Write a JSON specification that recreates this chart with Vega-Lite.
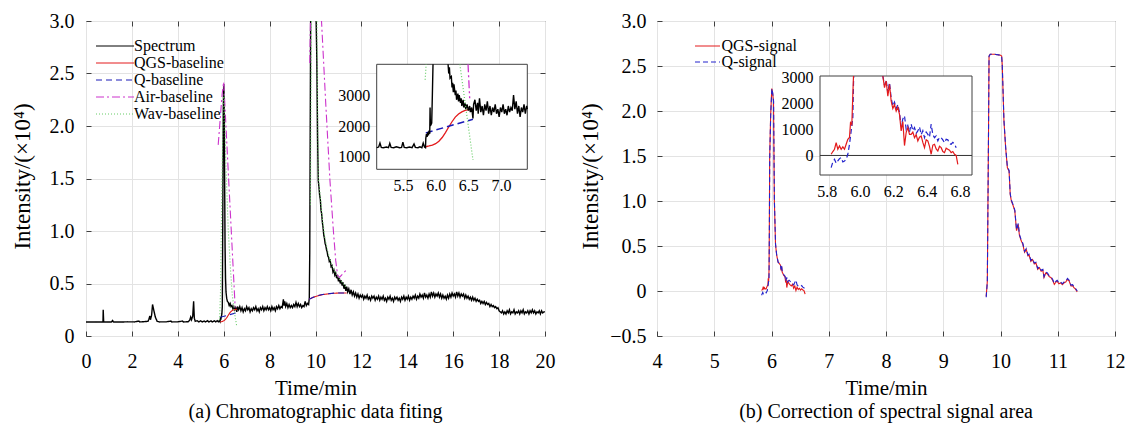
{
"$schema":"https://vega.github.io/schema/vega-lite/v6.json",
"background":"white",
"padding":{"left":10,"top":10,"right":5,"bottom":0},
"spacing":23,
"config":{
 "view":{"stroke":"#404040","strokeWidth":1},
 "font":"Liberation Serif",
 "axis":{"labelFont":"Liberation Serif","titleFont":"Liberation Serif","labelColor":"#000","titleColor":"#000","titleFontWeight":"normal","gridColor":"#e3e3e3","gridWidth":1,"tickColor":"#404040","domain":false,"labelFlush":false},
 "legend":{"labelFont":"Liberation Serif","labelFontSize":16,"labelColor":"#000"},
 "title":{"font":"Liberation Serif","fontWeight":"normal","fontSize":21,"color":"#000"}
},
"datasets":{
 "specA":[{"t":0,"v":0.133},{"t":0.4,"v":0.134},{"t":0.7,"v":0.133},{"t":0.74,"v":0.135},{"t":0.75,"v":0.25},{"t":0.77,"v":0.134},{"t":0.8,"v":0.133},{"t":1.1,"v":0.133},{"t":1.16,"v":0.148},{"t":1.19,"v":0.134},{"t":1.5,"v":0.133},{"t":1.8,"v":0.135},{"t":2.1,"v":0.134},{"t":2.3,"v":0.142},{"t":2.35,"v":0.134},{"t":2.5,"v":0.136},{"t":2.7,"v":0.14},{"t":2.74,"v":0.16},{"t":2.78,"v":0.19},{"t":2.81,"v":0.155},{"t":2.86,"v":0.2},{"t":2.9,"v":0.3},{"t":2.94,"v":0.26},{"t":2.98,"v":0.22},{"t":3.02,"v":0.18},{"t":3.06,"v":0.16},{"t":3.1,"v":0.14},{"t":3.2,"v":0.134},{"t":3.5,"v":0.135},{"t":3.7,"v":0.142},{"t":3.74,"v":0.134},{"t":4.0,"v":0.135},{"t":4.2,"v":0.142},{"t":4.25,"v":0.134},{"t":4.45,"v":0.136},{"t":4.52,"v":0.15},{"t":4.56,"v":0.18},{"t":4.6,"v":0.155},{"t":4.65,"v":0.19},{"t":4.69,"v":0.33},{"t":4.72,"v":0.17},{"t":4.76,"v":0.14},{"t":4.85,"v":0.145},{"t":4.92,"v":0.134},{"t":5.0,"v":0.145},{"t":5.06,"v":0.134},{"t":5.15,"v":0.143},{"t":5.2,"v":0.134},{"t":5.3,"v":0.146},{"t":5.35,"v":0.134},{"t":5.45,"v":0.144},{"t":5.5,"v":0.134},{"t":5.6,"v":0.145},{"t":5.65,"v":0.134},{"t":5.72,"v":0.146},{"t":5.77,"v":0.135},{"t":5.81,"v":0.145},{"t":5.84,"v":0.135},{"t":5.86,"v":0.17},{"t":5.88,"v":0.165},{"t":5.9,"v":0.185},{"t":5.92,"v":0.21},{"t":5.94,"v":0.28},{"t":5.96,"v":1.1},{"t":5.98,"v":2.1},{"t":6.0,"v":2.4},{"t":6.02,"v":2.25},{"t":6.04,"v":1.5},{"t":6.06,"v":0.85},{"t":6.08,"v":0.55},{"t":6.1,"v":0.42},{"t":6.13,"v":0.36},{"t":6.16,"v":0.33},{"t":6.2,"v":0.32},{"t":6.24,"v":0.29},{"t":6.28,"v":0.31},{"t":6.32,"v":0.28},{"t":6.36,"v":0.29},{"t":6.4,"v":0.26},{"t":6.44,"v":0.28},{"t":6.48,"v":0.25},{"t":6.52,"v":0.27},{"t":6.57,"v":0.23},{"t":6.6,"v":0.28},
 {"t":6.65,"v":0.25},{"t":6.7,"v":0.28},{"t":6.75,"v":0.24},{"t":6.8,"v":0.27},{"t":6.85,"v":0.23},{"t":6.9,"v":0.26},{"t":6.95,"v":0.24},{"t":7.0,"v":0.28},{"t":7.05,"v":0.25},{"t":7.1,"v":0.27},{"t":7.15,"v":0.23},{"t":7.2,"v":0.26},{"t":7.25,"v":0.24},{"t":7.3,"v":0.27},{"t":7.35,"v":0.25},{"t":7.4,"v":0.28},{"t":7.45,"v":0.24},{"t":7.5,"v":0.26},{"t":7.55,"v":0.23},{"t":7.6,"v":0.27},{"t":7.65,"v":0.25},{"t":7.7,"v":0.28},{"t":7.75,"v":0.24},{"t":7.8,"v":0.27},{"t":7.85,"v":0.25},{"t":7.9,"v":0.28},{"t":7.95,"v":0.25},{"t":8.0,"v":0.27},{"t":8.05,"v":0.24},{"t":8.1,"v":0.28},{"t":8.15,"v":0.25},{"t":8.2,"v":0.27},{"t":8.25,"v":0.24},{"t":8.3,"v":0.28},{"t":8.35,"v":0.26},{"t":8.4,"v":0.29},{"t":8.45,"v":0.26},{"t":8.5,"v":0.28},{"t":8.55,"v":0.27},{"t":8.6,"v":0.35},{"t":8.63,"v":0.29},{"t":8.66,"v":0.33},{"t":8.7,"v":0.28},{"t":8.75,"v":0.31},{"t":8.8,"v":0.27},{"t":8.85,"v":0.3},{"t":8.9,"v":0.27},{"t":8.95,"v":0.29},{"t":9.0,"v":0.27},{"t":9.05,"v":0.3},{"t":9.1,"v":0.28},{"t":9.15,"v":0.32},{"t":9.2,"v":0.28},{"t":9.25,"v":0.31},{"t":9.3,"v":0.28},{"t":9.35,"v":0.3},{"t":9.4,"v":0.27},{"t":9.45,"v":0.29},{"t":9.5,"v":0.28},{"t":9.55,"v":0.33},{"t":9.6,"v":0.29},{"t":9.65,"v":0.31},{"t":9.7,"v":0.3},
 {"t":9.73,"v":0.36},{"t":9.75,"v":0.8},{"t":9.77,"v":2.0},{"t":9.79,"v":3.1},{"t":10.02,"v":3.1},{"t":10.06,"v":2.6},{"t":10.09,"v":1.9},{"t":10.12,"v":1.48},{"t":10.15,"v":1.42},{"t":10.18,"v":1.34},{"t":10.21,"v":1.3},{"t":10.24,"v":1.2},{"t":10.27,"v":1.16},{"t":10.3,"v":1.08},{"t":10.33,"v":1.03},{"t":10.36,"v":0.96},{"t":10.39,"v":0.93},{"t":10.42,"v":0.88},{"t":10.45,"v":0.86},{"t":10.48,"v":0.82},{"t":10.51,"v":0.8},{"t":10.54,"v":0.76},{"t":10.57,"v":0.75},{"t":10.6,"v":0.71},{"t":10.64,"v":0.72},{"t":10.68,"v":0.66},{"t":10.72,"v":0.67},{"t":10.76,"v":0.61},{"t":10.8,"v":0.63},{"t":10.84,"v":0.58},{"t":10.88,"v":0.6},{"t":10.92,"v":0.55},{"t":10.96,"v":0.58},{"t":11.0,"v":0.52},{"t":11.04,"v":0.55},{"t":11.08,"v":0.5},{"t":11.12,"v":0.53},{"t":11.16,"v":0.48},{"t":11.2,"v":0.51},{"t":11.24,"v":0.45},{"t":11.28,"v":0.49},{"t":11.32,"v":0.43},{"t":11.36,"v":0.47},{"t":11.4,"v":0.42},{"t":11.45,"v":0.45},{"t":11.5,"v":0.4},{"t":11.55,"v":0.44},{"t":11.6,"v":0.39},{"t":11.65,"v":0.42},{"t":11.7,"v":0.38},{"t":11.75,"v":0.41},{"t":11.8,"v":0.37},{"t":11.85,"v":0.4},{"t":11.9,"v":0.36},{"t":11.95,"v":0.39},
 {"t":12.0,"v":0.37},{"t":12.05,"v":0.39},{"t":12.1,"v":0.35},{"t":12.15,"v":0.38},{"t":12.2,"v":0.36},{"t":12.25,"v":0.39},{"t":12.3,"v":0.35},{"t":12.35,"v":0.37},{"t":12.4,"v":0.34},{"t":12.45,"v":0.38},{"t":12.5,"v":0.36},{"t":12.55,"v":0.38},{"t":12.6,"v":0.34},{"t":12.65,"v":0.37},{"t":12.7,"v":0.35},{"t":12.75,"v":0.38},{"t":12.8,"v":0.34},{"t":12.85,"v":0.37},{"t":12.9,"v":0.35},{"t":12.95,"v":0.38},{"t":13.0,"v":0.34},{"t":13.05,"v":0.36},{"t":13.1,"v":0.33},{"t":13.15,"v":0.37},{"t":13.2,"v":0.35},{"t":13.25,"v":0.38},{"t":13.3,"v":0.34},{"t":13.35,"v":0.36},{"t":13.4,"v":0.33},{"t":13.45,"v":0.37},{"t":13.5,"v":0.35},{"t":13.55,"v":0.37},{"t":13.6,"v":0.34},{"t":13.65,"v":0.36},{"t":13.7,"v":0.33},{"t":13.75,"v":0.37},{"t":13.8,"v":0.35},{"t":13.85,"v":0.38},{"t":13.9,"v":0.34},{"t":13.95,"v":0.37},{"t":14.0,"v":0.35},{"t":14.05,"v":0.38},{"t":14.1,"v":0.34},{"t":14.15,"v":0.37},{"t":14.2,"v":0.35},{"t":14.25,"v":0.38},{"t":14.3,"v":0.36},{"t":14.35,"v":0.39},{"t":14.4,"v":0.35},{"t":14.45,"v":0.38},{"t":14.5,"v":0.36},{"t":14.55,"v":0.4},{"t":14.6,"v":0.37},{"t":14.65,"v":0.39},{"t":14.7,"v":0.36},{"t":14.75,"v":0.41},{"t":14.8,"v":0.37},{"t":14.85,"v":0.39},{"t":14.9,"v":0.36},{"t":14.95,"v":0.4},{"t":15.0,"v":0.37},{"t":15.05,"v":0.42},{"t":15.1,"v":0.38},{"t":15.15,"v":0.41},{"t":15.2,"v":0.37},{"t":15.25,"v":0.4},{"t":15.3,"v":0.38},{"t":15.35,"v":0.41},{"t":15.4,"v":0.37},{"t":15.45,"v":0.4},{"t":15.5,"v":0.36},{"t":15.55,"v":0.39},{"t":15.6,"v":0.36},{"t":15.65,"v":0.38},{"t":15.7,"v":0.35},{"t":15.75,"v":0.39},{"t":15.8,"v":0.36},{"t":15.85,"v":0.4},{"t":15.9,"v":0.37},{"t":15.95,"v":0.41},{"t":16.0,"v":0.38},{"t":16.05,"v":0.4},{"t":16.1,"v":0.37},{"t":16.15,"v":0.42},{"t":16.2,"v":0.38},{"t":16.25,"v":0.41},{"t":16.3,"v":0.37},{"t":16.35,"v":0.4},{"t":16.4,"v":0.38},{"t":16.45,"v":0.4},{"t":16.5,"v":0.36},{"t":16.55,"v":0.39},{"t":16.6,"v":0.36},{"t":16.65,"v":0.38},{"t":16.7,"v":0.35},{"t":16.75,"v":0.37},{"t":16.8,"v":0.34},{"t":16.85,"v":0.37},{"t":16.9,"v":0.34},{"t":16.95,"v":0.36},{"t":17.0,"v":0.33},{"t":17.05,"v":0.35},{"t":17.1,"v":0.33},{"t":17.15,"v":0.34},{"t":17.2,"v":0.31},{"t":17.25,"v":0.33},{"t":17.3,"v":0.31},{"t":17.35,"v":0.33},{"t":17.4,"v":0.3},{"t":17.45,"v":0.32},{"t":17.5,"v":0.3},{"t":17.55,"v":0.31},{"t":17.6,"v":0.28},{"t":17.65,"v":0.3},{"t":17.7,"v":0.28},{"t":17.75,"v":0.29},{"t":17.8,"v":0.27},{"t":17.85,"v":0.28},{"t":17.9,"v":0.26},{"t":17.95,"v":0.27},{"t":18.0,"v":0.24},{"t":18.05,"v":0.23},{"t":18.1,"v":0.22},{"t":18.15,"v":0.24},{"t":18.2,"v":0.21},{"t":18.25,"v":0.23},{"t":18.3,"v":0.21},{"t":18.35,"v":0.24},{"t":18.4,"v":0.22},{"t":18.45,"v":0.25},{"t":18.5,"v":0.21},{"t":18.55,"v":0.23},{"t":18.6,"v":0.22},{"t":18.65,"v":0.25},{"t":18.7,"v":0.21},{"t":18.75,"v":0.23},{"t":18.8,"v":0.22},{"t":18.85,"v":0.24},{"t":18.9,"v":0.21},{"t":18.95,"v":0.24},{"t":19.0,"v":0.22},{"t":19.05,"v":0.25},{"t":19.1,"v":0.21},{"t":19.15,"v":0.23},{"t":19.2,"v":0.22},{"t":19.25,"v":0.24},{"t":19.3,"v":0.21},{"t":19.35,"v":0.24},{"t":19.4,"v":0.22},{"t":19.45,"v":0.25},{"t":19.5,"v":0.22},{"t":19.55,"v":0.24},{"t":19.6,"v":0.21},{"t":19.65,"v":0.23},{"t":19.7,"v":0.22},{"t":19.75,"v":0.24},{"t":19.8,"v":0.21},{"t":19.85,"v":0.24},{"t":19.9,"v":0.22},{"t":19.95,"v":0.23},{"t":20.0,"v":0.23}],
 "qgsA":[{"g":1,"t":5.85,"v":0.133},{"g":1,"t":5.95,"v":0.139},{"g":1,"t":6.0,"v":0.145},{"g":1,"t":6.05,"v":0.153},{"g":1,"t":6.1,"v":0.165},{"g":1,"t":6.15,"v":0.18},{"g":1,"t":6.2,"v":0.198},{"g":1,"t":6.25,"v":0.215},{"g":1,"t":6.3,"v":0.229},{"g":1,"t":6.35,"v":0.239},{"g":1,"t":6.4,"v":0.246},{"g":1,"t":6.45,"v":0.25},{"g":1,"t":6.5,"v":0.253},{"g":1,"t":6.57,"v":0.254},{"g":2,"t":9.72,"v":0.35},{"g":2,"t":9.9,"v":0.368},{"g":2,"t":10.1,"v":0.383},{"g":2,"t":10.3,"v":0.394},{"g":2,"t":10.5,"v":0.4},{"g":2,"t":10.8,"v":0.407},{"g":2,"t":11.1,"v":0.41},{"g":2,"t":11.36,"v":0.41}],
 "qA":[{"g":1,"t":5.85,"v":0.178},{"g":1,"t":6.57,"v":0.222},{"g":2,"t":9.72,"v":0.35},{"g":2,"t":9.9,"v":0.37},{"g":2,"t":10.1,"v":0.385},{"g":2,"t":10.3,"v":0.395},{"g":2,"t":10.5,"v":0.401},{"g":2,"t":10.8,"v":0.408},{"g":2,"t":11.1,"v":0.41},{"g":2,"t":11.36,"v":0.41}],
 "airA":[{"g":1,"t":5.76,"v":1.82},{"g":1,"t":5.93,"v":2.3},{"g":1,"t":6.0,"v":2.42},{"g":1,"t":6.5,"v":0.27},{"g":2,"t":9.75,"v":2.6},{"g":2,"t":9.8,"v":3.3},{"g":2,"t":10.2,"v":3.3},{"g":2,"t":10.25,"v":3.05},{"g":2,"t":10.45,"v":2.2},{"g":2,"t":10.63,"v":1.48},{"g":2,"t":10.78,"v":1.0},{"g":2,"t":10.88,"v":0.72},{"g":2,"t":10.97,"v":0.57},{"g":2,"t":11.05,"v":0.56},{"g":2,"t":11.35,"v":0.63}],
 "wavA":[{"g":1,"t":5.82,"v":0.15},{"g":1,"t":5.86,"v":0.42},{"g":1,"t":5.92,"v":1.4},{"g":1,"t":5.98,"v":2.25},{"g":1,"t":6.02,"v":2.3},{"g":1,"t":6.1,"v":1.6},{"g":1,"t":6.2,"v":1.0},{"g":1,"t":6.3,"v":0.62},{"g":1,"t":6.37,"v":0.4},{"g":1,"t":6.47,"v":0.22},{"g":1,"t":6.57,"v":0.09},{"g":2,"t":9.78,"v":1.25},{"g":2,"t":9.83,"v":3.3},{"g":2,"t":10.05,"v":3.3},{"g":2,"t":10.12,"v":1.52},{"g":2,"t":10.2,"v":1.34},{"g":2,"t":10.3,"v":1.12},{"g":2,"t":10.4,"v":0.95},{"g":2,"t":10.5,"v":0.84},{"g":2,"t":10.6,"v":0.75},{"g":2,"t":10.7,"v":0.68},{"g":2,"t":10.8,"v":0.63},{"g":2,"t":10.9,"v":0.59},{"g":2,"t":11.05,"v":0.54},{"g":2,"t":11.2,"v":0.5},{"g":2,"t":11.35,"v":0.46}],
 "specI":[{"g":1,"t":5.1,"v":1300},{"g":1,"t":5.13,"v":1320},{"g":1,"t":5.15,"v":1450},{"g":1,"t":5.17,"v":1310},{"g":1,"t":5.2,"v":1300},{"g":1,"t":5.25,"v":1320},{"g":1,"t":5.28,"v":1300},{"g":1,"t":5.3,"v":1440},{"g":1,"t":5.32,"v":1310},{"g":1,"t":5.36,"v":1300},{"g":1,"t":5.4,"v":1330},{"g":1,"t":5.45,"v":1300},{"g":1,"t":5.48,"v":1310},{"g":1,"t":5.5,"v":1480},{"g":1,"t":5.52,"v":1310},{"g":1,"t":5.56,"v":1300},{"g":1,"t":5.6,"v":1320},{"g":1,"t":5.64,"v":1300},{"g":1,"t":5.67,"v":1420},{"g":1,"t":5.69,"v":1310},{"g":1,"t":5.73,"v":1300},{"g":1,"t":5.76,"v":1330},{"g":1,"t":5.79,"v":1300},{"g":1,"t":5.81,"v":1450},{"g":1,"t":5.83,"v":1320},{"g":1,"t":5.845,"v":1300},{"g":1,"t":5.85,"v":1600},{"g":1,"t":5.86,"v":1750},{"g":1,"t":5.87,"v":1650},{"g":1,"t":5.88,"v":1800},{"g":1,"t":5.89,"v":1700},{"g":1,"t":5.9,"v":1850},{"g":1,"t":5.91,"v":1750},{"g":1,"t":5.915,"v":2600},{"g":1,"t":5.92,"v":2000},{"g":1,"t":5.94,"v":2100},{"g":1,"t":5.95,"v":3000},{"g":1,"t":5.96,"v":4000},
 {"g":2,"t":6.19,"v":4000},{"g":2,"t":6.2,"v":3700},{"g":2,"t":6.21,"v":3900},{"g":2,"t":6.22,"v":3550},{"g":2,"t":6.24,"v":3600},{"g":2,"t":6.25,"v":3250},{"g":2,"t":6.26,"v":3400},{"g":2,"t":6.27,"v":3100},{"g":2,"t":6.28,"v":3350},{"g":2,"t":6.3,"v":3000},{"g":2,"t":6.31,"v":3150},{"g":2,"t":6.32,"v":2850},{"g":2,"t":6.34,"v":3050},{"g":2,"t":6.35,"v":2800},{"g":2,"t":6.36,"v":3000},{"g":2,"t":6.38,"v":2750},{"g":2,"t":6.39,"v":2900},{"g":2,"t":6.4,"v":2650},{"g":2,"t":6.42,"v":2850},{"g":2,"t":6.43,"v":2600},{"g":2,"t":6.45,"v":2750},{"g":2,"t":6.46,"v":2550},{"g":2,"t":6.48,"v":2700},{"g":2,"t":6.5,"v":2500},{"g":2,"t":6.52,"v":2650},{"g":2,"t":6.53,"v":2450},{"g":2,"t":6.55,"v":2600},{"g":2,"t":6.57,"v":2250},{"g":2,"t":6.58,"v":2700},{"g":2,"t":6.6,"v":2850},{"g":2,"t":6.62,"v":2500},{"g":2,"t":6.64,"v":2750},{"g":2,"t":6.65,"v":2400},{"g":2,"t":6.67,"v":2900},{"g":2,"t":6.69,"v":2450},{"g":2,"t":6.71,"v":2650},{"g":2,"t":6.73,"v":2350},{"g":2,"t":6.75,"v":2700},{"g":2,"t":6.77,"v":2500},{"g":2,"t":6.79,"v":2800},{"g":2,"t":6.81,"v":2400},{"g":2,"t":6.83,"v":2650},{"g":2,"t":6.85,"v":2350},{"g":2,"t":6.87,"v":2600},{"g":2,"t":6.89,"v":2450},{"g":2,"t":6.91,"v":2700},{"g":2,"t":6.93,"v":2400},{"g":2,"t":6.95,"v":2550},{"g":2,"t":6.97,"v":2300},{"g":2,"t":6.99,"v":2600},{"g":2,"t":7.01,"v":2450},{"g":2,"t":7.03,"v":2700},{"g":2,"t":7.05,"v":2400},{"g":2,"t":7.07,"v":2550},{"g":2,"t":7.09,"v":2350},{"g":2,"t":7.11,"v":2650},{"g":2,"t":7.13,"v":2450},{"g":2,"t":7.15,"v":2600},{"g":2,"t":7.17,"v":2500},{"g":2,"t":7.19,"v":3000},{"g":2,"t":7.21,"v":2550},{"g":2,"t":7.23,"v":2800},{"g":2,"t":7.25,"v":2400},{"g":2,"t":7.27,"v":2650},{"g":2,"t":7.29,"v":2300},{"g":2,"t":7.31,"v":2600},{"g":2,"t":7.33,"v":2450},{"g":2,"t":7.35,"v":2700},{"g":2,"t":7.37,"v":2400},{"g":2,"t":7.39,"v":2650},{"g":2,"t":7.4,"v":2550}],
 "qgsI":[{"t":5.85,"v":1330},{"t":5.9,"v":1355},{"t":5.95,"v":1385},{"t":6.0,"v":1430},{"t":6.05,"v":1510},{"t":6.1,"v":1630},{"t":6.15,"v":1790},{"t":6.2,"v":1970},{"t":6.25,"v":2140},{"t":6.3,"v":2290},{"t":6.35,"v":2390},{"t":6.4,"v":2460},{"t":6.45,"v":2505},{"t":6.5,"v":2530},{"t":6.57,"v":2540}],
 "qI":[{"t":5.85,"v":1780},{"t":6.57,"v":2220}],
 "airI":[{"t":6.495,"v":4000},{"t":6.52,"v":2900}],
 "wavI":[{"g":1,"t":5.84,"v":3500},{"g":1,"t":5.855,"v":4000},{"g":2,"t":6.37,"v":4000},{"g":2,"t":6.47,"v":2450},{"g":2,"t":6.57,"v":900}],
 "gridAx":[{"t":5.5},{"t":6.0},{"t":6.5},{"t":7.0}],
 "gridAy":[{"v":1000},{"v":2000},{"v":3000}],
 "gridBx":[{"t":5.8},{"t":6.0},{"t":6.2},{"t":6.4},{"t":6.6}],
 "gridBy":[{"v":1000},{"v":2000},{"v":3000}],
 "qgsB":[{"g":1,"t":5.827,"v":0.005},{"g":1,"t":5.847,"v":0.024},{"g":1,"t":5.857,"v":0.049},{"g":1,"t":5.867,"v":0.024},{"g":1,"t":5.877,"v":0.037},{"g":1,"t":5.887,"v":0.024},{"g":1,"t":5.907,"v":0.024},{"g":1,"t":5.917,"v":0.043},{"g":1,"t":5.937,"v":0.069},{"g":1,"t":5.943,"v":0.126},{"g":1,"t":5.951,"v":0.119},{"g":1,"t":5.957,"v":0.235},{"g":1,"t":5.962,"v":0.67},{"g":1,"t":5.968,"v":1.48},{"g":1,"t":5.985,"v":1.95},{"g":1,"t":6.005,"v":2.25},{"g":1,"t":6.02,"v":2.2},{"g":1,"t":6.035,"v":2.11},{"g":1,"t":6.05,"v":1.0},{"g":1,"t":6.07,"v":0.52},{"g":1,"t":6.09,"v":0.4},{"g":1,"t":6.115,"v":0.32},{"g":1,"t":6.137,"v":0.305},{"g":1,"t":6.157,"v":0.286},{"g":1,"t":6.167,"v":0.228},{"g":1,"t":6.177,"v":0.273},{"g":1,"t":6.187,"v":0.209},{"g":1,"t":6.217,"v":0.17},{"g":1,"t":6.237,"v":0.158},{"g":1,"t":6.247,"v":0.094},{"g":1,"t":6.257,"v":0.13},{"g":1,"t":6.267,"v":0.038},{"g":1,"t":6.287,"v":0.107},{"g":1,"t":6.307,"v":0.081},{"g":1,"t":6.327,"v":0.068},{"g":1,"t":6.347,"v":0.056},{"g":1,"t":6.367,"v":0.075},{"g":1,"t":6.387,"v":0.03},{"g":1,"t":6.407,"v":0.056},{"g":1,"t":6.427,"v":0.005},{"g":1,"t":6.447,"v":0.043},{"g":1,"t":6.467,"v":0.017},{"g":1,"t":6.487,"v":0.03},{"g":1,"t":6.507,"v":0.011},{"g":1,"t":6.527,"v":0.024},{"g":1,"t":6.547,"v":0.011},{"g":1,"t":6.567,"v":0.005},{"g":1,"t":6.587,"v":-0.034},
 {"g":2,"t":9.75,"v":-0.06},{"g":2,"t":9.77,"v":0.11},{"g":2,"t":9.79,"v":1.7},{"g":2,"t":9.8,"v":2.61},{"g":2,"t":9.82,"v":2.63},{"g":2,"t":9.9,"v":2.63},{"g":2,"t":10.0,"v":2.62},{"g":2,"t":10.02,"v":2.61},{"g":2,"t":10.03,"v":2.52},{"g":2,"t":10.06,"v":1.89},{"g":2,"t":10.09,"v":1.59},{"g":2,"t":10.12,"v":1.37},{"g":2,"t":10.15,"v":1.33},{"g":2,"t":10.17,"v":1.07},{"g":2,"t":10.19,"v":1.0},{"g":2,"t":10.22,"v":0.95},{"g":2,"t":10.25,"v":0.89},{"g":2,"t":10.28,"v":0.67},{"g":2,"t":10.31,"v":0.74},{"g":2,"t":10.33,"v":0.62},{"g":2,"t":10.36,"v":0.56},{"g":2,"t":10.39,"v":0.52},{"g":2,"t":10.42,"v":0.43},{"g":2,"t":10.45,"v":0.46},{"g":2,"t":10.48,"v":0.39},{"g":2,"t":10.5,"v":0.4},{"g":2,"t":10.53,"v":0.33},{"g":2,"t":10.56,"v":0.35},{"g":2,"t":10.59,"v":0.3},{"g":2,"t":10.62,"v":0.31},{"g":2,"t":10.65,"v":0.24},{"g":2,"t":10.68,"v":0.26},{"g":2,"t":10.71,"v":0.22},{"g":2,"t":10.74,"v":0.23},{"g":2,"t":10.76,"v":0.15},{"g":2,"t":10.79,"v":0.2},{"g":2,"t":10.82,"v":0.19},{"g":2,"t":10.85,"v":0.16},{"g":2,"t":10.88,"v":0.15},{"g":2,"t":10.91,"v":0.12},{"g":2,"t":10.94,"v":0.074},{"g":2,"t":10.97,"v":0.1},{"g":2,"t":10.99,"v":0.11},{"g":2,"t":11.02,"v":0.08},{"g":2,"t":11.05,"v":0.09},{"g":2,"t":11.08,"v":0.07},{"g":2,"t":11.11,"v":0.09},{"g":2,"t":11.14,"v":0.1},{"g":2,"t":11.17,"v":0.13},{"g":2,"t":11.2,"v":0.11},{"g":2,"t":11.23,"v":0.056},{"g":2,"t":11.26,"v":0.06},{"g":2,"t":11.28,"v":0.04},{"g":2,"t":11.31,"v":0.02},{"g":2,"t":11.34,"v":-0.01}],
 "qB":[{"g":1,"t":5.827,"v":-0.047},{"g":1,"t":5.847,"v":-0.015},{"g":1,"t":5.857,"v":-0.03},{"g":1,"t":5.877,"v":-0.012},{"g":1,"t":5.887,"v":-0.008},{"g":1,"t":5.907,"v":-0.021},{"g":1,"t":5.927,"v":0.005},{"g":1,"t":5.937,"v":0.043},{"g":1,"t":5.947,"v":0.094},{"g":1,"t":5.957,"v":0.145},{"g":1,"t":5.963,"v":0.67},{"g":1,"t":5.969,"v":1.48},{"g":1,"t":5.986,"v":1.95},{"g":1,"t":6.006,"v":2.25},{"g":1,"t":6.021,"v":2.2},{"g":1,"t":6.036,"v":2.11},{"g":1,"t":6.051,"v":1.0},{"g":1,"t":6.071,"v":0.52},{"g":1,"t":6.091,"v":0.4},{"g":1,"t":6.116,"v":0.32},{"g":1,"t":6.137,"v":0.305},{"g":1,"t":6.157,"v":0.29},{"g":1,"t":6.167,"v":0.24},{"g":1,"t":6.177,"v":0.28},{"g":1,"t":6.187,"v":0.22},{"g":1,"t":6.217,"v":0.18},{"g":1,"t":6.237,"v":0.165},{"g":1,"t":6.247,"v":0.11},{"g":1,"t":6.267,"v":0.152},{"g":1,"t":6.277,"v":0.1},{"g":1,"t":6.307,"v":0.12},{"g":1,"t":6.327,"v":0.107},{"g":1,"t":6.347,"v":0.094},{"g":1,"t":6.367,"v":0.08},{"g":1,"t":6.387,"v":0.068},{"g":1,"t":6.427,"v":0.12},{"g":1,"t":6.447,"v":0.068},{"g":1,"t":6.467,"v":0.056},{"g":1,"t":6.507,"v":0.049},{"g":1,"t":6.527,"v":0.06},{"g":1,"t":6.547,"v":0.043},{"g":1,"t":6.577,"v":0.03},
 {"g":2,"t":9.75,"v":-0.07},{"g":2,"t":9.77,"v":0.1},{"g":2,"t":9.79,"v":1.7},{"g":2,"t":9.8,"v":2.61},{"g":2,"t":9.82,"v":2.63},{"g":2,"t":9.9,"v":2.63},{"g":2,"t":10.0,"v":2.62},{"g":2,"t":10.02,"v":2.61},{"g":2,"t":10.03,"v":2.52},{"g":2,"t":10.06,"v":1.9},{"g":2,"t":10.09,"v":1.6},{"g":2,"t":10.12,"v":1.38},{"g":2,"t":10.15,"v":1.34},{"g":2,"t":10.17,"v":1.08},{"g":2,"t":10.19,"v":1.01},{"g":2,"t":10.22,"v":0.96},{"g":2,"t":10.25,"v":0.9},{"g":2,"t":10.28,"v":0.68},{"g":2,"t":10.31,"v":0.75},{"g":2,"t":10.33,"v":0.63},{"g":2,"t":10.36,"v":0.57},{"g":2,"t":10.39,"v":0.53},{"g":2,"t":10.42,"v":0.44},{"g":2,"t":10.45,"v":0.47},{"g":2,"t":10.48,"v":0.4},{"g":2,"t":10.5,"v":0.41},{"g":2,"t":10.53,"v":0.34},{"g":2,"t":10.56,"v":0.36},{"g":2,"t":10.59,"v":0.31},{"g":2,"t":10.62,"v":0.32},{"g":2,"t":10.65,"v":0.25},{"g":2,"t":10.68,"v":0.27},{"g":2,"t":10.71,"v":0.23},{"g":2,"t":10.74,"v":0.24},{"g":2,"t":10.76,"v":0.16},{"g":2,"t":10.79,"v":0.21},{"g":2,"t":10.82,"v":0.2},{"g":2,"t":10.85,"v":0.17},{"g":2,"t":10.88,"v":0.16},{"g":2,"t":10.91,"v":0.13},{"g":2,"t":10.94,"v":0.085},{"g":2,"t":10.97,"v":0.11},{"g":2,"t":10.99,"v":0.12},{"g":2,"t":11.02,"v":0.09},{"g":2,"t":11.05,"v":0.1},{"g":2,"t":11.08,"v":0.08},{"g":2,"t":11.11,"v":0.1},{"g":2,"t":11.14,"v":0.11},{"g":2,"t":11.17,"v":0.14},{"g":2,"t":11.2,"v":0.12},{"g":2,"t":11.23,"v":0.066},{"g":2,"t":11.26,"v":0.07},{"g":2,"t":11.28,"v":0.05},{"g":2,"t":11.31,"v":0.03},{"g":2,"t":11.34,"v":0.0}],
 "qgsBI":[{"g":1,"t":5.827,"v":46},{"g":1,"t":5.837,"v":150},{"g":1,"t":5.847,"v":238},{"g":1,"t":5.857,"v":492},{"g":1,"t":5.867,"v":238},{"g":1,"t":5.877,"v":365},{"g":1,"t":5.887,"v":238},{"g":1,"t":5.897,"v":330},{"g":1,"t":5.907,"v":238},{"g":1,"t":5.917,"v":430},{"g":1,"t":5.927,"v":622},{"g":1,"t":5.937,"v":690},{"g":1,"t":5.943,"v":1260},{"g":1,"t":5.951,"v":1190},{"g":1,"t":5.957,"v":2350},{"g":1,"t":5.961,"v":3050},
 {"g":2,"t":6.137,"v":3050},{"g":2,"t":6.147,"v":2600},{"g":2,"t":6.157,"v":2860},{"g":2,"t":6.167,"v":2280},{"g":2,"t":6.177,"v":2730},{"g":2,"t":6.187,"v":2090},{"g":2,"t":6.197,"v":1800},{"g":2,"t":6.207,"v":1950},{"g":2,"t":6.217,"v":1700},{"g":2,"t":6.227,"v":1850},{"g":2,"t":6.237,"v":1580},{"g":2,"t":6.247,"v":940},{"g":2,"t":6.257,"v":1300},{"g":2,"t":6.267,"v":380},{"g":2,"t":6.277,"v":880},{"g":2,"t":6.287,"v":1070},{"g":2,"t":6.297,"v":810},{"g":2,"t":6.307,"v":810},{"g":2,"t":6.317,"v":900},{"g":2,"t":6.327,"v":680},{"g":2,"t":6.337,"v":800},{"g":2,"t":6.347,"v":560},{"g":2,"t":6.357,"v":700},{"g":2,"t":6.367,"v":750},{"g":2,"t":6.377,"v":500},{"g":2,"t":6.387,"v":300},{"g":2,"t":6.397,"v":600},{"g":2,"t":6.407,"v":560},{"g":2,"t":6.417,"v":350},{"g":2,"t":6.427,"v":46},{"g":2,"t":6.437,"v":400},{"g":2,"t":6.447,"v":430},{"g":2,"t":6.457,"v":250},{"g":2,"t":6.467,"v":170},{"g":2,"t":6.477,"v":350},{"g":2,"t":6.487,"v":300},{"g":2,"t":6.497,"v":150},{"g":2,"t":6.507,"v":110},{"g":2,"t":6.517,"v":280},{"g":2,"t":6.527,"v":240},{"g":2,"t":6.537,"v":200},{"g":2,"t":6.547,"v":110},{"g":2,"t":6.557,"v":150},{"g":2,"t":6.567,"v":46},{"g":2,"t":6.577,"v":0},{"g":2,"t":6.587,"v":-340}],
 "qBI":[{"g":1,"t":5.827,"v":-470},{"g":1,"t":5.837,"v":-250},{"g":1,"t":5.847,"v":-146},{"g":1,"t":5.857,"v":-300},{"g":1,"t":5.867,"v":-210},{"g":1,"t":5.877,"v":-120},{"g":1,"t":5.887,"v":-83},{"g":1,"t":5.897,"v":-250},{"g":1,"t":5.907,"v":-210},{"g":1,"t":5.917,"v":-150},{"g":1,"t":5.927,"v":46},{"g":1,"t":5.937,"v":430},{"g":1,"t":5.947,"v":940},{"g":1,"t":5.957,"v":1450},{"g":1,"t":5.962,"v":3050},
 {"g":2,"t":6.137,"v":3050},{"g":2,"t":6.147,"v":2700},{"g":2,"t":6.157,"v":2900},{"g":2,"t":6.167,"v":2400},{"g":2,"t":6.177,"v":2800},{"g":2,"t":6.187,"v":2200},{"g":2,"t":6.197,"v":1900},{"g":2,"t":6.207,"v":2050},{"g":2,"t":6.217,"v":1800},{"g":2,"t":6.227,"v":1950},{"g":2,"t":6.237,"v":1650},{"g":2,"t":6.247,"v":1100},{"g":2,"t":6.257,"v":1400},{"g":2,"t":6.267,"v":1520},{"g":2,"t":6.277,"v":1000},{"g":2,"t":6.287,"v":1150},{"g":2,"t":6.297,"v":900},{"g":2,"t":6.307,"v":1200},{"g":2,"t":6.317,"v":950},{"g":2,"t":6.327,"v":1070},{"g":2,"t":6.337,"v":850},{"g":2,"t":6.347,"v":940},{"g":2,"t":6.357,"v":1100},{"g":2,"t":6.367,"v":800},{"g":2,"t":6.377,"v":950},{"g":2,"t":6.387,"v":680},{"g":2,"t":6.397,"v":900},{"g":2,"t":6.407,"v":810},{"g":2,"t":6.417,"v":700},{"g":2,"t":6.427,"v":1200},{"g":2,"t":6.437,"v":800},{"g":2,"t":6.447,"v":680},{"g":2,"t":6.457,"v":750},{"g":2,"t":6.467,"v":560},{"g":2,"t":6.477,"v":700},{"g":2,"t":6.487,"v":680},{"g":2,"t":6.497,"v":600},{"g":2,"t":6.507,"v":490},{"g":2,"t":6.517,"v":620},{"g":2,"t":6.527,"v":600},{"g":2,"t":6.537,"v":450},{"g":2,"t":6.547,"v":430},{"g":2,"t":6.557,"v":500},{"g":2,"t":6.567,"v":440},{"g":2,"t":6.577,"v":300}]
},
"resolve":{"scale":{"color":"independent","strokeDash":"independent"}},
"hconcat":[
{
 "width":459,"height":315,
 "title":{"text":"(a) Chromatographic data fiting","orient":"bottom","offset":4,"fontSize":20},
 "resolve":{"scale":{"x":"independent","y":"independent"},"axis":{"x":"independent","y":"independent"}},
 "layer":[
  {
   "encoding":{
    "x":{"field":"t","type":"quantitative","scale":{"domain":[0,20],"nice":false,"zero":false},"axis":{"orient":"bottom","title":"Time/min","values":[0,2,4,6,8,10,12,14,16,18,20],"grid":true,"tickSize":-5,"labelFont":"Liberation Serif","labelFontSize":20,"titleFontSize":21,"labelPadding":20,"titlePadding":6}},
    "y":{"field":"v","type":"quantitative","scale":{"domain":[0,3],"nice":false,"zero":false},"axis":{"orient":"left","title":"Intensity/(×10⁴)","titleY":155,"values":[0,0.5,1,1.5,2,2.5,3],"labelExpr":"datum.value === 0 ? '0' : format(datum.value, '.1f')","grid":true,"tickSize":-5,"labelFont":"Liberation Serif","labelFontSize":20,"titleFontSize":23,"labelPadding":17,"titlePadding":15}}
   },
   "layer":[
    {"data":{"name":"specA"},"mark":{"type":"line","clip":true,"strokeWidth":1.4},
     "encoding":{
      "color":{"datum":"Spectrum","type":"nominal","scale":{"domain":["Spectrum","QGS-baseline","Q-baseline","Air-baseline","Wav-baseline"],"range":["#000000","#e31a1c","#1a1ab8","#cc33cc","#66cc66"]},"legend":{"orient":"none","legendX":7,"legendY":17,"title":null,"symbolType":"M-3.8,0H3.8","symbolSize":100,"symbolOffset":14,"labelOffset":11,"symbolStrokeWidth":1,"rowPadding":1,"labelFontSize":16,"labelFont":"Liberation Serif","padding":0}},
      "strokeDash":{"datum":"Spectrum","type":"nominal","scale":{"domain":["Spectrum","QGS-baseline","Q-baseline","Air-baseline","Wav-baseline"],"range":[[1,0],[1,0],[6,4],[8,3,2,3],[1,2]]},"legend":{"orient":"none","legendX":7,"legendY":17,"title":null,"symbolType":"M-3.8,0H3.8","symbolSize":100,"symbolOffset":14,"labelOffset":11,"symbolStrokeWidth":1,"rowPadding":1,"labelFontSize":16,"labelFont":"Liberation Serif","padding":0}}
     }},
    {"data":{"name":"qgsA"},"mark":{"type":"line","clip":true,"strokeWidth":1.1},
     "encoding":{"detail":{"field":"g"},"color":{"datum":"QGS-baseline","type":"nominal"},"strokeDash":{"datum":"QGS-baseline","type":"nominal"}}},
    {"data":{"name":"qA"},"mark":{"type":"line","clip":true,"strokeWidth":1.1},
     "encoding":{"detail":{"field":"g"},"color":{"datum":"Q-baseline","type":"nominal"},"strokeDash":{"datum":"Q-baseline","type":"nominal"}}},
    {"data":{"name":"airA"},"mark":{"type":"line","clip":true,"strokeWidth":1.1},
     "encoding":{"detail":{"field":"g"},"color":{"datum":"Air-baseline","type":"nominal"},"strokeDash":{"datum":"Air-baseline","type":"nominal"}}},
    {"data":{"name":"wavA"},"mark":{"type":"line","clip":true,"strokeWidth":1.1},
     "encoding":{"detail":{"field":"g"},"color":{"datum":"Wav-baseline","type":"nominal"},"strokeDash":{"datum":"Wav-baseline","type":"nominal"}}}
   ]
  },
  {
   "data":{"values":[{}]},
   "mark":{"type":"point","opacity":0},
   "encoding":{
    "x":{"datum":0,"type":"quantitative","scale":{"domain":[0,20],"nice":false},"axis":{"orient":"top","values":[2,4,6,8,10,12,14,16,18],"labels":false,"grid":false,"tickSize":-5,"title":null}},
    "y":{"datum":0,"type":"quantitative","scale":{"domain":[0,3],"nice":false},"axis":{"orient":"right","values":[0.5,1,1.5,2,2.5],"labels":false,"grid":false,"tickSize":-5,"title":null}}
   }
  },
  {
   "encoding":{
    "x":{"field":"t","type":"quantitative","scale":{"domain":[5.1,7.4],"range":[290.7,441.3],"nice":false,"zero":false},"axis":{"orient":"bottom","offset":-166.7,"values":[5.5,6,6.5,7],"format":".1f","grid":false,"ticks":false,"labelFont":"Liberation Serif","labelFontSize":16,"labelPadding":8,"title":null,"zindex":1}},
    "y":{"field":"v","type":"quantitative","scale":{"domain":[600,4000],"range":[148.3,43.3],"nice":false,"zero":false},"axis":{"orient":"left","offset":-290.7,"values":[1000,2000,3000],"format":"d","grid":false,"ticks":false,"labelFont":"Liberation Serif","labelFontSize":16,"labelPadding":7,"title":null,"zindex":1}}
   },
   "layer":[
    {"data":{"values":[{"t":5.1,"t2":7.4,"v":600,"v2":4000}]},"mark":{"type":"rect","fill":"white","stroke":"#404040","strokeWidth":1},"encoding":{"x2":{"field":"t2"},"y2":{"field":"v2"}}},
    {"data":{"name":"gridAx"},"mark":{"type":"rule","color":"#e3e3e3","strokeWidth":1},"encoding":{"y":{"datum":600,"type":"quantitative"},"y2":{"datum":4000}}},
    {"data":{"name":"gridAy"},"mark":{"type":"rule","color":"#e3e3e3","strokeWidth":1},"encoding":{"x":{"datum":5.1,"type":"quantitative"},"x2":{"datum":7.4}}},
    {"data":{"name":"qgsI"},"mark":{"type":"line","color":"#e31a1c","strokeWidth":1.3}},
    {"data":{"name":"qI"},"mark":{"type":"line","color":"#1a1ab8","strokeWidth":1.5,"strokeDash":[7,4]}},
    {"data":{"name":"specI"},"mark":{"type":"line","color":"#000000","strokeWidth":1.4},"encoding":{"detail":{"field":"g"}}},
    {"data":{"name":"airI"},"mark":{"type":"line","color":"#cc33cc","strokeWidth":1.3,"strokeDash":[8,3,2,3]}},
    {"data":{"name":"wavI"},"mark":{"type":"line","color":"#66cc66","strokeWidth":1.2,"strokeDash":[1,2]},"encoding":{"detail":{"field":"g"}}}
   ]
  }
 ]
},
{
 "width":458,"height":315,
 "title":{"text":"(b) Correction of spectral signal area","orient":"bottom","offset":4,"fontSize":20},
 "resolve":{"scale":{"x":"independent","y":"independent"},"axis":{"x":"independent","y":"independent"}},
 "layer":[
  {
   "encoding":{
    "x":{"field":"t","type":"quantitative","scale":{"domain":[4,12],"nice":false,"zero":false},"axis":{"orient":"bottom","title":"Time/min","values":[4,5,6,7,8,9,10,11,12],"grid":true,"tickSize":-5,"labelFont":"Liberation Serif","labelFontSize":20,"titleFontSize":21,"labelPadding":20,"titlePadding":6}},
    "y":{"field":"v","type":"quantitative","scale":{"domain":[-0.5,3],"nice":false,"zero":false},"axis":{"orient":"left","title":"Intensity/(×10⁴)","titleY":155,"values":[-0.5,0,0.5,1,1.5,2,2.5,3],"labelExpr":"datum.value === 0 ? '0' : format(datum.value, '.1f')","grid":true,"tickSize":-5,"labelFont":"Liberation Serif","labelFontSize":20,"titleFontSize":23,"labelPadding":16,"titlePadding":7}}
   },
   "layer":[
    {"data":{"values":[{}]},"mark":{"type":"rule","color":"#333333","strokeWidth":1},"encoding":{"y":{"datum":0,"type":"quantitative"}}},
    {"data":{"name":"qgsB"},"mark":{"type":"line","clip":true,"strokeWidth":1.1},
     "encoding":{"detail":{"field":"g"},
      "color":{"datum":"QGS-signal","type":"nominal","scale":{"domain":["QGS-signal","Q-signal"],"range":["#e31a1c","#2222cc"]},"legend":{"orient":"none","legendX":35,"legendY":17,"title":null,"symbolType":"M-2.5,0H2.5","symbolSize":100,"symbolOffset":7.5,"labelOffset":6,"symbolStrokeWidth":1,"rowPadding":0,"labelFontSize":16,"labelFont":"Liberation Serif","padding":0}},
      "strokeDash":{"datum":"QGS-signal","type":"nominal","scale":{"domain":["QGS-signal","Q-signal"],"range":[[1,0],[5,3]]},"legend":{"orient":"none","legendX":35,"legendY":17,"title":null,"symbolType":"M-2.5,0H2.5","symbolSize":100,"symbolOffset":7.5,"labelOffset":6,"symbolStrokeWidth":1,"rowPadding":0,"labelFontSize":16,"labelFont":"Liberation Serif","padding":0}}}},
    {"data":{"name":"qB"},"mark":{"type":"line","clip":true,"strokeWidth":1.1},
     "encoding":{"detail":{"field":"g"},"color":{"datum":"Q-signal","type":"nominal"},"strokeDash":{"datum":"Q-signal","type":"nominal"}}}
   ]
  },
  {
   "data":{"values":[{}]},
   "mark":{"type":"point","opacity":0},
   "encoding":{
    "x":{"datum":4,"type":"quantitative","scale":{"domain":[4,12],"nice":false,"zero":false},"axis":{"orient":"top","values":[5,6,7,8,9,10,11],"labels":false,"grid":false,"tickSize":-5,"title":null}},
    "y":{"datum":0,"type":"quantitative","scale":{"domain":[-0.5,3],"nice":false,"zero":false},"axis":{"orient":"right","values":[0,0.5,1,1.5,2,2.5],"labels":false,"grid":false,"tickSize":-5,"title":null}}
   }
  },
  {
   "encoding":{
    "x":{"field":"t","type":"quantitative","scale":{"domain":[5.76,6.672],"range":[163,315],"nice":false,"zero":false},"axis":{"orient":"bottom","offset":-161,"values":[5.8,6,6.2,6.4,6.6],"labelExpr":"datum.value > 6.5 ? '6.8' : format(datum.value, '.1f')","grid":false,"ticks":false,"labelFont":"Liberation Serif","labelFontSize":16,"labelPadding":8,"title":null,"zindex":1}},
    "y":{"field":"v","type":"quantitative","scale":{"domain":[-750,3050],"range":[154,55],"nice":false,"zero":false},"axis":{"orient":"left","offset":-163,"values":[0,1000,2000,3000],"format":"d","grid":false,"ticks":false,"labelFont":"Liberation Serif","labelFontSize":16,"labelPadding":7,"title":null,"zindex":1}}
   },
   "layer":[
    {"data":{"values":[{"t":5.76,"t2":6.672,"v":-750,"v2":3050}]},"mark":{"type":"rect","fill":"white","stroke":"#404040","strokeWidth":1},"encoding":{"x2":{"field":"t2"},"y2":{"field":"v2"}}},
    {"data":{"name":"gridBx"},"mark":{"type":"rule","color":"#e3e3e3","strokeWidth":1},"encoding":{"y":{"datum":-750,"type":"quantitative"},"y2":{"datum":3050}}},
    {"data":{"name":"gridBy"},"mark":{"type":"rule","color":"#e3e3e3","strokeWidth":1},"encoding":{"x":{"datum":5.76,"type":"quantitative"},"x2":{"datum":6.672}}},
    {"data":{"values":[{"t":5.76,"t2":6.672,"v":0}]},"mark":{"type":"rule","color":"#333333","strokeWidth":1},"encoding":{"x2":{"field":"t2"}}},
    {"data":{"name":"qBI"},"mark":{"type":"line","color":"#2222cc","strokeWidth":1.2,"strokeDash":[5,3]},"encoding":{"detail":{"field":"g"}}},
    {"data":{"name":"qgsBI"},"mark":{"type":"line","color":"#e31a1c","strokeWidth":1.2},"encoding":{"detail":{"field":"g"}}}
   ]
  }
 ]
}
]
}
